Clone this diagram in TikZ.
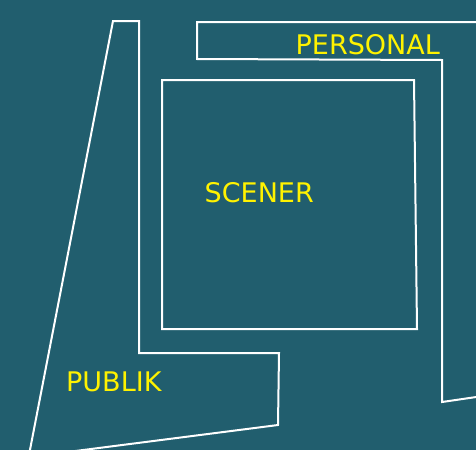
\documentclass[tikz,border=0pt]{standalone}
\usepackage{fontspec}
\setmainfont{DejaVu Sans}
\definecolor{bg}{RGB}{33,94,110}
\definecolor{lbl}{RGB}{255,242,0}
\begin{document}
\begin{tikzpicture}[x=1pt,y=-1pt,
  zone/.style={draw=white,line width=2pt,line join=miter},
  zonelabel/.style={text=lbl,anchor=base west,inner sep=0pt,font=\fontsize{27}{30}\selectfont}]
\useasboundingbox (0,0) rectangle (476,450);
\fill[bg] (0,0) rectangle (476,450);
\begin{scope}
\clip (0,0) rectangle (476,450);
% PUBLIK
\draw[zone] (113,21) -- (139,21) -- (139,353) -- (279,353) -- (278,425) -- (28.6,457) -- cycle;
% PERSONAL
\draw[zone] (490,22) -- (197,22) -- (197,59) -- (442,60) -- (442,402) -- (490,395);
% SCENER
\draw[zone] (162,80) -- (414,80) -- (417,329) -- (162,329) -- cycle;
\end{scope}
\node[zonelabel] (personal) at (295.5,54) {PERSONAL};
\node[zonelabel] (scener) at (204.5,202) {SCENER};
\node[zonelabel] (publik) at (66,391) {PUBLIK};
\end{tikzpicture}
\end{document}
